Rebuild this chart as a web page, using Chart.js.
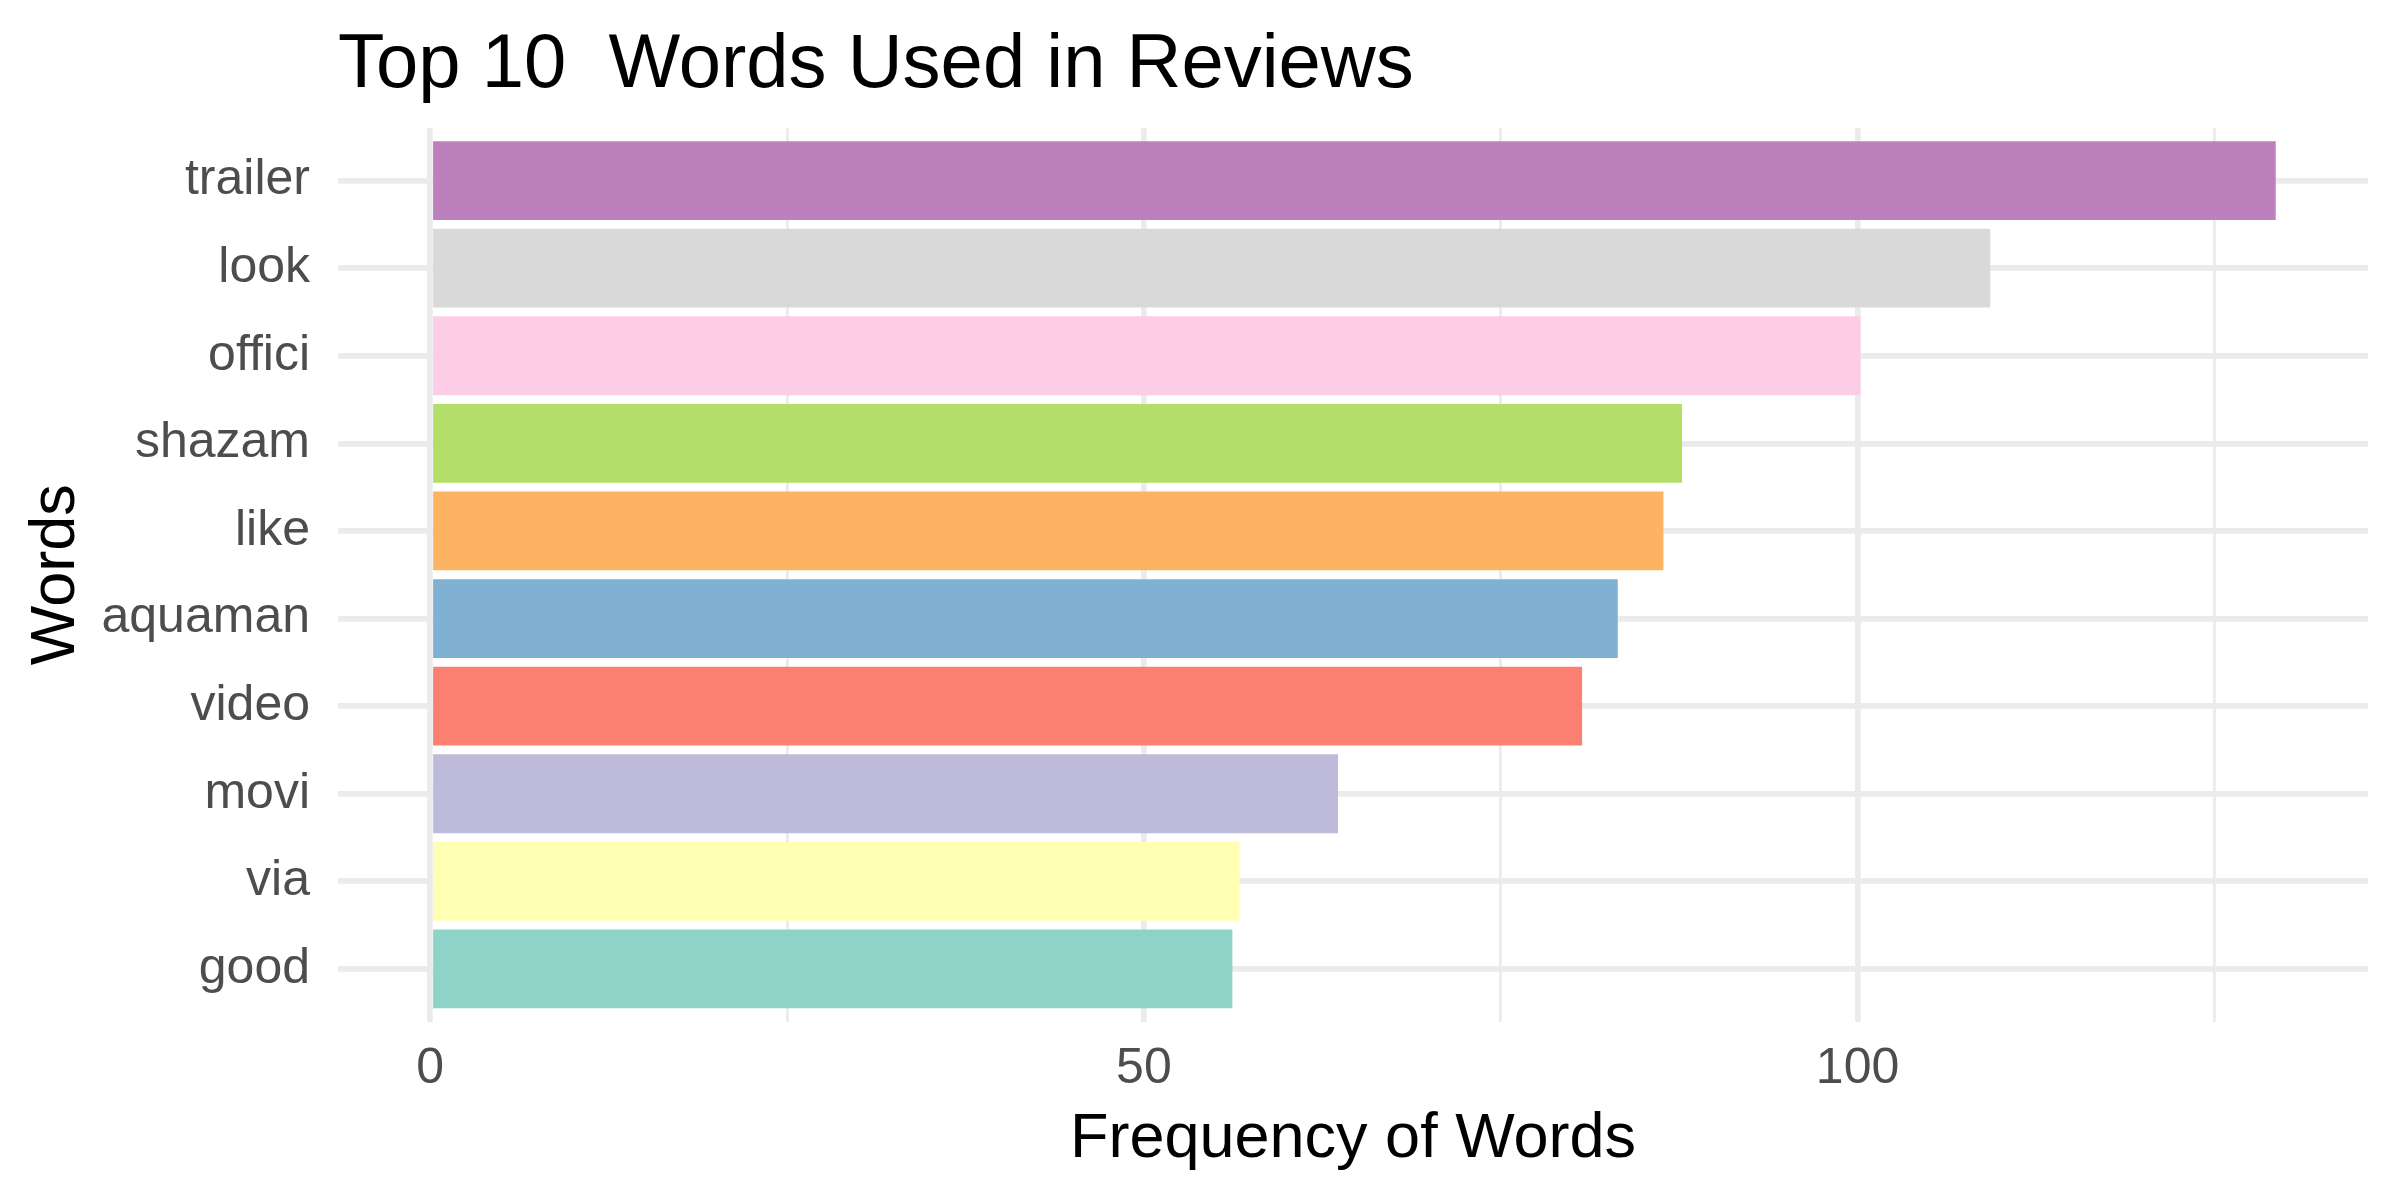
<!DOCTYPE html>
<html><head><meta charset="utf-8">
<script src="https://cdn.jsdelivr.net/npm/chart.js@4/dist/chart.umd.min.js"></script>
<style>html,body{margin:0;padding:0;background:#fff;} #wrap{width:2400px;height:1200px;position:relative;}</style>
</head><body><div id="wrap"><canvas id="c" width="2400" height="1200"></canvas></div>
<script>
const chartTitle = 'Top 10  Words Used in Reviews';
const words = ['trailer','look','offici','shazam','like','aquaman','video','movi','via','good'];
const frequencies = [129.3,109.3,100.2,87.7,86.4,83.2,80.7,63.6,56.7,56.2];
const barColors = ['#BC80BD','#D9D9D9','#FCCDE5','#B3DE69','#FDB462','#80B1D3','#FB8072','#BEBADA','#FFFFB3','#8DD3C7'];
const xTicks = [0,25,50,75,100,125];
const xTickLabels = ['0','','50','','100',''];
const xTitle = 'Frequency of Words';
const yTitle = 'Words';

const FONT = "'Liberation Sans', Arial, sans-serif";
const maxVal = Math.max(...frequencies);
const xPad = maxVal * 0.05;

const titlePlugin = {
  id: 'ggTitle',
  afterDraw(chart) {
    const ctx = chart.ctx;
    ctx.save();
    ctx.font = '76px ' + FONT;
    ctx.fillStyle = '#000000';
    ctx.textBaseline = 'alphabetic';
    ctx.textAlign = 'left';
    ctx.fillText(chartTitle, 338, 87);
    ctx.restore();
  }
};

new Chart(document.getElementById('c'), {
  type: 'bar',
  data: {
    datasets: [{
      data: frequencies.map((v, i) => ({x: v, y: i})),
      backgroundColor: barColors,
      borderWidth: 0,
      barPercentage: 0.9,
      categoryPercentage: 1.0
    }]
  },
  options: {
    indexAxis: 'y',
    responsive: false,
    devicePixelRatio: 1,
    animation: false,
    layout: { padding: { left: 0, right: 32, top: 128, bottom: 0 } },
    plugins: { legend: { display: false }, tooltip: { enabled: false }, title: { display: false } },
    scales: {
      x: {
        type: 'linear',
        position: 'bottom',
        offset: false,
        min: -xPad,
        max: maxVal + xPad,
        afterBuildTicks: (scale) => { scale.ticks = xTicks.map(v => ({value: v})); },
        afterFit: (scale) => { scale.height = 178.5; },
        border: { display: false },
        grid: {
          offset: false,
          color: '#EBEBEB',
          lineWidth: (ctx) => (ctx.tick && ctx.tick.value % 50 === 0) ? 5.7 : 2.85,
          drawTicks: false
        },
        ticks: {
          autoSkip: false,
          maxRotation: 0,
          padding: 18,
          color: '#4D4D4D',
          font: { family: FONT, size: 50 },
          callback: (v) => { const k = xTicks.indexOf(v); return k >= 0 ? xTickLabels[k] : ''; }
        },
        title: {
          display: true,
          text: xTitle,
          color: '#000000',
          font: { family: FONT, size: 63 },
          padding: { top: 0, bottom: 23 }
        }
      },
      y: {
        type: 'linear',
        position: 'left',
        reverse: true,
        offset: false,
        min: -0.6,
        max: words.length - 1 + 0.6,
        afterBuildTicks: (scale) => { scale.ticks = words.map((w, i) => ({value: i})); },
        afterFit: (scale) => { scale.width = 338; },
        border: { display: false },
        grid: { offset: false, color: '#EBEBEB', lineWidth: 5.7, drawTicks: false },
        ticks: {
          autoSkip: false,
          padding: 28,
          color: '#4D4D4D',
          font: { family: FONT, size: 50 },
          callback: (v) => words[v] !== undefined ? words[v] : ''
        },
        title: {
          display: true,
          text: yTitle,
          color: '#000000',
          font: { family: FONT, size: 63 },
          padding: { top: 19, bottom: 0 }
        }
      }
    }
  },
  plugins: [titlePlugin]
});
</script>
</body></html>
